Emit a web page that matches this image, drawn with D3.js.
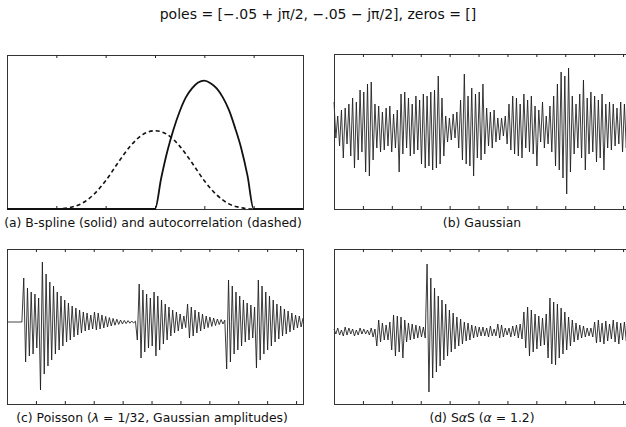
<!DOCTYPE html>
<html>
<head>
<meta charset="utf-8">
<script src="https://cdn.jsdelivr.net/npm/d3@7"></script>
<style>
body { margin:0; background:#fff; }
text { font-family: "DejaVu Sans", sans-serif; fill:#111; }
.frame { fill:none; stroke:#333; stroke-width:1; }
.tick line { stroke:#222; }
.sig { fill:none; stroke:#1a1a1a; stroke-width:0.85; }
</style>
</head>
<body>
<div id="chart"></div>
<script>
// (a) B-spline and its autocorrelation, sampled in t
var splineT = [-3, -2, -1, 0, 0.125, 0.25, 0.375, 0.5, 0.625, 0.75, 0.875, 1, 1.125, 1.25, 1.375, 1.5, 1.625, 1.75, 1.875, 2, 2.5, 3];
var splineV = [0, 0, 0, 0, 0.24, 0.45, 0.62, 0.76, 0.87, 0.94, 0.985, 1.0, 0.98, 0.94, 0.87, 0.77, 0.63, 0.47, 0.26, 0, 0, 0];
var autoT = [-3, -2.5, -2, -1.75, -1.5, -1.25, -1, -0.75, -0.5, -0.25, 0, 0.25, 0.5, 0.75, 1, 1.25, 1.5, 1.75, 2, 2.5, 3];
var autoV = [0, 0, 0, 0.01, 0.04, 0.11, 0.22, 0.36, 0.49, 0.58, 0.61, 0.58, 0.49, 0.36, 0.22, 0.11, 0.04, 0.01, 0, 0, 0];
var splineTicks = [-2, -1, 0, 1, 2];

// (b) Gaussian innovation, output peaks (160 values over 1024 samples)
var gaussVals = [
 1.3,-0.5,0.6,-0.9,0.9,-1.5,1.0,-0.8,1.2,-1.4,
 1.5,-2.0,1.3,-1.6,1.9,-1.2,1.8,-2.2,2.2,-2.4,
 2.3,-1.6,1.2,-1.0,1.1,-1.2,0.8,-1.1,1.0,-0.9,
 1.1,-1.2,0.7,-1.0,0.9,-2.2,1.7,-1.3,1.8,-1.0,
 1.5,-1.4,1.2,-1.3,1.6,-1.1,1.4,-1.8,1.7,-2.0,
 1.6,-1.9,1.8,-2.1,1.9,-2.0,2.6,-1.8,1.5,-1.4,
 0.6,-0.7,0.5,-0.6,0.7,-0.5,0.8,-1.0,1.4,-1.6,
 2.7,-1.8,1.6,-1.9,2.0,-2.4,1.7,-1.5,1.8,-1.6,
 2.2,-1.3,1.0,-0.9,0.8,-1.0,0.9,-0.7,0.5,-0.6,
 0.5,-0.4,0.6,-0.8,1.2,-1.1,1.6,-1.3,1.5,-1.4,
 1.2,-1.5,1.7,-1.0,1.4,-1.2,1.6,-1.3,1.1,-1.9,
 0.9,-0.7,1.3,-1.0,0.6,-0.8,1.1,-1.2,1.6,-1.9,
 2.2,-2.1,2.8,-2.5,2.6,-3.3,3.0,-2.2,1.6,-1.3,
 1.2,-1.0,1.7,-1.5,2.4,-2.1,1.5,-1.3,1.8,-1.2,
 1.6,-1.7,1.4,-1.5,1.7,-2.1,1.2,-1.0,1.3,-1.1,
 1.2,-0.9,1.0,-0.8,1.3,-1.2,1.2,-1.0,1.4,-1.1
];

// (c) Poisson impulses with gaussian amplitudes
var poissonVals = [
 0,0,0,0,0,0,0,0,0,2.2,
 -2.0,1.7,-1.7,1.5,-1.6,1.4,-1.3,1.2,-3.4,3.0,
 -2.6,2.4,-2.2,2.0,-1.9,1.8,-1.6,1.5,-1.4,1.3,
 -1.2,1.1,-1.0,0.95,-0.9,0.8,-0.75,0.7,-0.65,0.6,
 -0.55,0.5,-0.45,0.45,-0.4,0.35,-0.35,0.5,-0.4,0.45,
 -0.35,0.35,-0.3,0.28,-0.25,0.22,-0.2,0.18,-0.16,0.14,
 -0.12,0.1,-0.1,0.08,-0.08,0.07,-0.06,0.05,-0.05,0.04,
 -0.9,1.9,-1.8,1.6,-1.5,1.4,-1.3,1.2,-1.2,1.5,
 -1.7,1.3,-1.4,1.1,-1.1,0.9,-0.9,0.75,-0.7,0.6,
 -0.55,0.5,-0.45,0.4,-0.35,0.3,-0.28,0.9,-0.8,0.75,
 -0.7,0.6,-0.55,0.5,-0.45,0.4,-0.35,0.3,-0.28,0.25,
 -0.22,0.2,-0.18,0.15,-0.13,0.12,-0.1,0.09,-2.35,2.1,
 -2.0,1.8,-1.6,1.5,-1.4,1.3,-1.2,1.1,-1.0,0.95,
 -0.9,0.85,-0.8,0.75,-2.3,2.1,-1.9,1.8,-1.6,1.5,
 -1.4,1.3,-1.2,1.1,-1.0,0.9,-0.85,0.8,-0.7,0.65,
 -0.6,0.55,-0.5,0.45,-0.4,0.35,-0.3,0.3,-0.25,0.2
];

// (d) symmetric alpha-stable innovation
var sasVals = [
 0.15,-0.1,0.2,-0.15,0.1,-0.2,0.25,-0.15,0.2,-0.1,
 0.15,-0.2,0.1,-0.15,0.2,-0.1,0.15,-0.1,0.1,-0.15,
 0.2,-0.25,0.15,-0.7,0.6,-0.5,0.45,-0.4,0.35,-0.4,
 0.5,-0.9,0.85,-1.2,0.8,-1.0,0.75,-1.3,0.6,-0.5,
 0.45,-0.4,0.4,-0.35,0.35,-0.3,0.3,-0.25,0.25,-0.3,
 3.4,-3.0,2.7,-2.3,2.2,-2.0,1.8,-1.7,1.6,-1.4,
 1.4,-1.2,1.1,-1.0,0.95,-0.85,0.75,-0.7,0.65,-0.6,
 0.5,-0.45,0.45,-0.4,0.35,-0.3,0.3,-0.25,0.25,-0.2,
 0.25,-0.2,0.2,-0.25,0.3,-0.2,0.15,-0.2,0.4,-0.3,
 0.35,-0.25,0.2,-0.15,0.2,-0.25,0.3,-0.2,0.35,-0.3,
 0.4,-0.35,1.0,-0.8,1.25,-1.2,1.1,-1.0,0.9,-0.85,
 0.8,-0.7,0.7,-0.65,0.9,-1.3,1.7,-1.6,1.5,-1.65,
 1.4,-1.3,1.2,-1.1,1.0,-0.9,0.75,-0.7,0.6,-0.5,
 0.45,-0.4,0.35,-0.3,0.3,-0.25,0.2,-0.2,0.2,-0.25,
 0.5,-0.55,0.6,-0.5,0.45,-0.6,0.55,-0.45,0.4,-0.35,
 0.6,-0.5,0.5,-0.6,0.45,-0.4,0.5,-0.45,0.4,-0.35
];
var sigLength = 1024;
var sigTicks = [100, 200, 300, 400, 500, 600, 700, 800, 900, 1000];

document.addEventListener('DOMContentLoaded', function(){
    makeChart();
}, false);

function drawFrame(svg, box, xScale, ticks){
    var g = svg.append("g");
    g.append("rect")
        .attr("class","frame")
        .attr("x", box.x0 + 0.5).attr("y", box.y0 + 0.5)
        .attr("width", box.x1 - box.x0).attr("height", box.y1 - box.y0);
    // inward ticks, top and bottom
    g.append("g")
        .attr("transform","translate(0," + box.y0 + ")")
        .call(d3.axisTop(xScale).tickValues(ticks).tickSize(-3).tickFormat(""))
        .call(function(a){ a.select(".domain").remove(); });
    g.append("g")
        .attr("transform","translate(0," + box.y1 + ")")
        .call(d3.axisBottom(xScale).tickValues(ticks).tickSize(-3).tickFormat(""))
        .call(function(a){ a.select(".domain").remove(); });
}

function signalPanel(svg, box, vals, yDom){
    var x = d3.scaleLinear().domain([0, sigLength]).range([box.x0, box.x0 + 296]);
    var y = d3.scaleLinear().domain(yDom).range([box.y1, box.y0]);
    var line = d3.line()
        .x(function(d,i){ return x(i * sigLength / (vals.length - 1)); })
        .y(function(d){ return y(d); });
    svg.append("path")
        .datum(vals)
        .attr("class","sig")
        .attr("d", line);
    drawFrame(svg, box, x, sigTicks);
}

function makeChart(){
    var width = 626, height = 427;
    var svg = d3.select("#chart").append("svg")
        .attr("width", width)
        .attr("height", height);

    svg.append("text")
        .attr("x", 318).attr("y", 19)
        .attr("text-anchor","middle")
        .style("font-size","14px")
        .text("poles = [\u2212.05 + j\u03c0/2, \u2212.05 \u2212 j\u03c0/2], zeros = []");

    // (a)
    var boxA = {x0:7, x1:303, y0:55, y1:209};
    var xA = d3.scaleLinear().domain([-3, 3]).range([boxA.x0, boxA.x1]);
    var yA = d3.scaleLinear().domain([0, 1.2]).range([boxA.y1, boxA.y0]);
    drawFrame(svg, boxA, xA, splineTicks);
    var lineA = d3.line().curve(d3.curveMonotoneX);
    svg.append("path")
        .datum(autoT.map(function(t,i){ return [xA(t), yA(autoV[i])]; }))
        .attr("d", lineA)
        .attr("fill","none").attr("stroke","#111")
        .attr("stroke-width",1.6)
        .attr("stroke-dasharray","4,3");
    svg.append("path")
        .datum(splineT.map(function(t,i){ return [xA(t), yA(splineV[i])]; }))
        .attr("d", lineA)
        .attr("fill","none").attr("stroke","#111")
        .attr("stroke-width",1.8);

    // (b), (c), (d)
    signalPanel(svg, {x0:334, x1:630, y0:54, y1:209}, gaussVals, [-4.05, 3.7]);
    signalPanel(svg, {x0:7, x1:303, y0:249, y1:404}, poissonVals, [-4.1, 3.65]);
    signalPanel(svg, {x0:334, x1:630, y0:249, y1:404}, sasVals, [-3.6, 4.15]);

    var labels = [
        {x:153, y:227, parts:[["(a) B-spline (solid) and autocorrelation (dashed)", "normal"]]},
        {x:482, y:227, parts:[["(b) Gaussian", "normal"]]},
        {x:152, y:422, parts:[["(c) Poisson (", "normal"], ["\u03bb", "italic"], [" = 1/32, Gaussian amplitudes)", "normal"]]},
        {x:482, y:422, parts:[["(d) S", "normal"], ["\u03b1", "italic"], ["S (", "normal"], ["\u03b1", "italic"], [" = 1.2)", "normal"]]}
    ];
    labels.forEach(function(l){
        var t = svg.append("text")
            .attr("x", l.x).attr("y", l.y)
            .attr("text-anchor","middle")
            .style("font-size","12.4px");
        l.parts.forEach(function(p){
            t.append("tspan").style("font-style", p[1]).text(p[0]);
        });
    });
}
</script>
</body>
</html>
